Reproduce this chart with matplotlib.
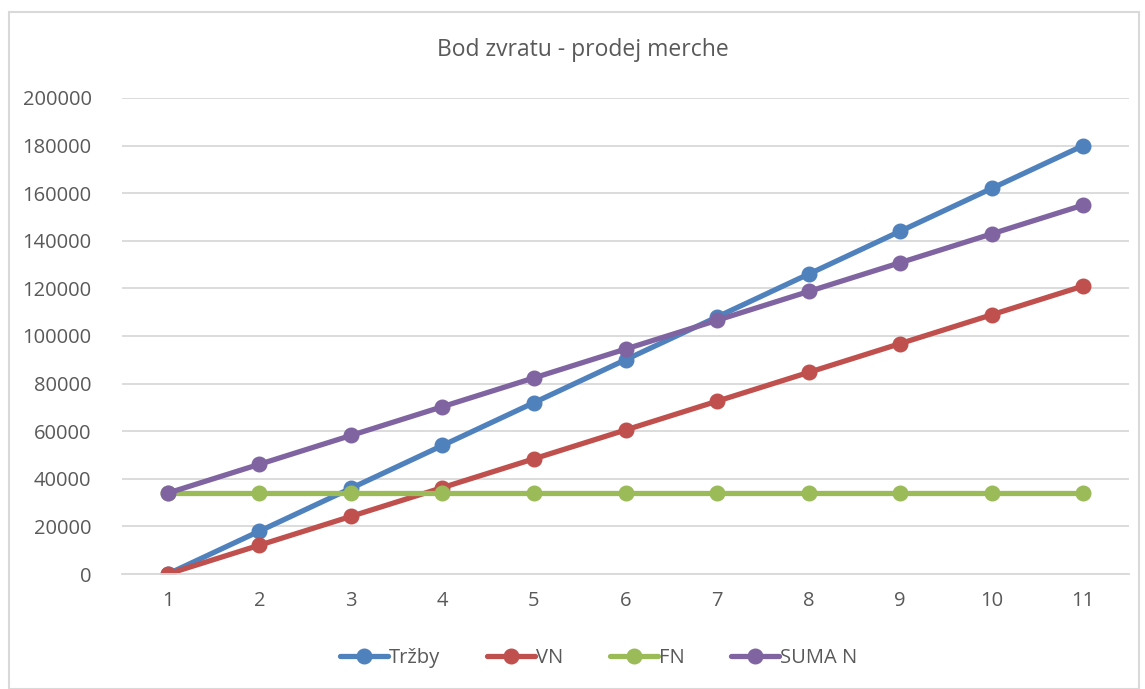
import matplotlib.pyplot as plt
from matplotlib.patches import Rectangle

plt.rcParams['font.family'] = ['Open Sans', 'DejaVu Sans']

# data
x = [1, 2, 3, 4, 5, 6, 7, 8, 9, 10, 11]
trzby = [0, 18000, 36000, 54000, 72000, 90000, 108000, 126000, 144000, 162000, 180000]
vn = [0, 12100, 24200, 36300, 48400, 60500, 72600, 84700, 96800, 108900, 121000]
fn = [34000, 34000, 34000, 34000, 34000, 34000, 34000, 34000, 34000, 34000, 34000]
suma_n = [34000, 46100, 58200, 70300, 82400, 94500, 106600, 118700, 130800, 142900, 155000]

names = ['Tržby', 'VN', 'FN', 'SUMA N']
colors = ['#4F81BD', '#C0504D', '#9BBB59', '#8064A2']

fig = plt.figure(figsize=(11.45, 6.89), dpi=100)
ax = fig.add_axes([0.1066, 0.1669, 0.8794, 0.6909])

for series, name, c in zip([trzby, vn, fn, suma_n], names, colors):
    ax.plot(x, series, color=c, lw=3.8, marker='o', markersize=10.5,
            label=name, solid_capstyle='round')

ax.set_xlim(0.5, 11.5)
ax.set_ylim(0, 200000)
ax.set_xticks(x)
ax.set_yticks(range(0, 200001, 20000))
ax.grid(axis='y', color='#D9D9D9', lw=1.3)
ax.set_axisbelow(True)
for s in ['top', 'right', 'left']:
    ax.spines[s].set_visible(False)
ax.spines['bottom'].set_color('#D9D9D9')
ax.spines['bottom'].set_linewidth(1.3)
ax.tick_params(length=0, labelsize=14.5, colors='#595959', pad=12)
ax.tick_params(axis='y', pad=22)

fig.text(0.509, 0.927, 'Bod zvratu - prodej merche', ha='center', va='center',
         fontsize=16.5, color='#595959')

fig.legend(loc='center', bbox_to_anchor=(0.523, 0.045), ncol=4, frameon=False,
           fontsize=14.5, labelcolor='#595959', handlelength=2.4,
           handletextpad=0.05, columnspacing=2.3)

fig.patches.append(Rectangle((9 / 1145, 0), 1130 / 1145, 1 - 12 / 689,
                             transform=fig.transFigure, fill=False,
                             edgecolor='#D9D9D9', lw=1.5))

fig.savefig('out.png', dpi=100)
